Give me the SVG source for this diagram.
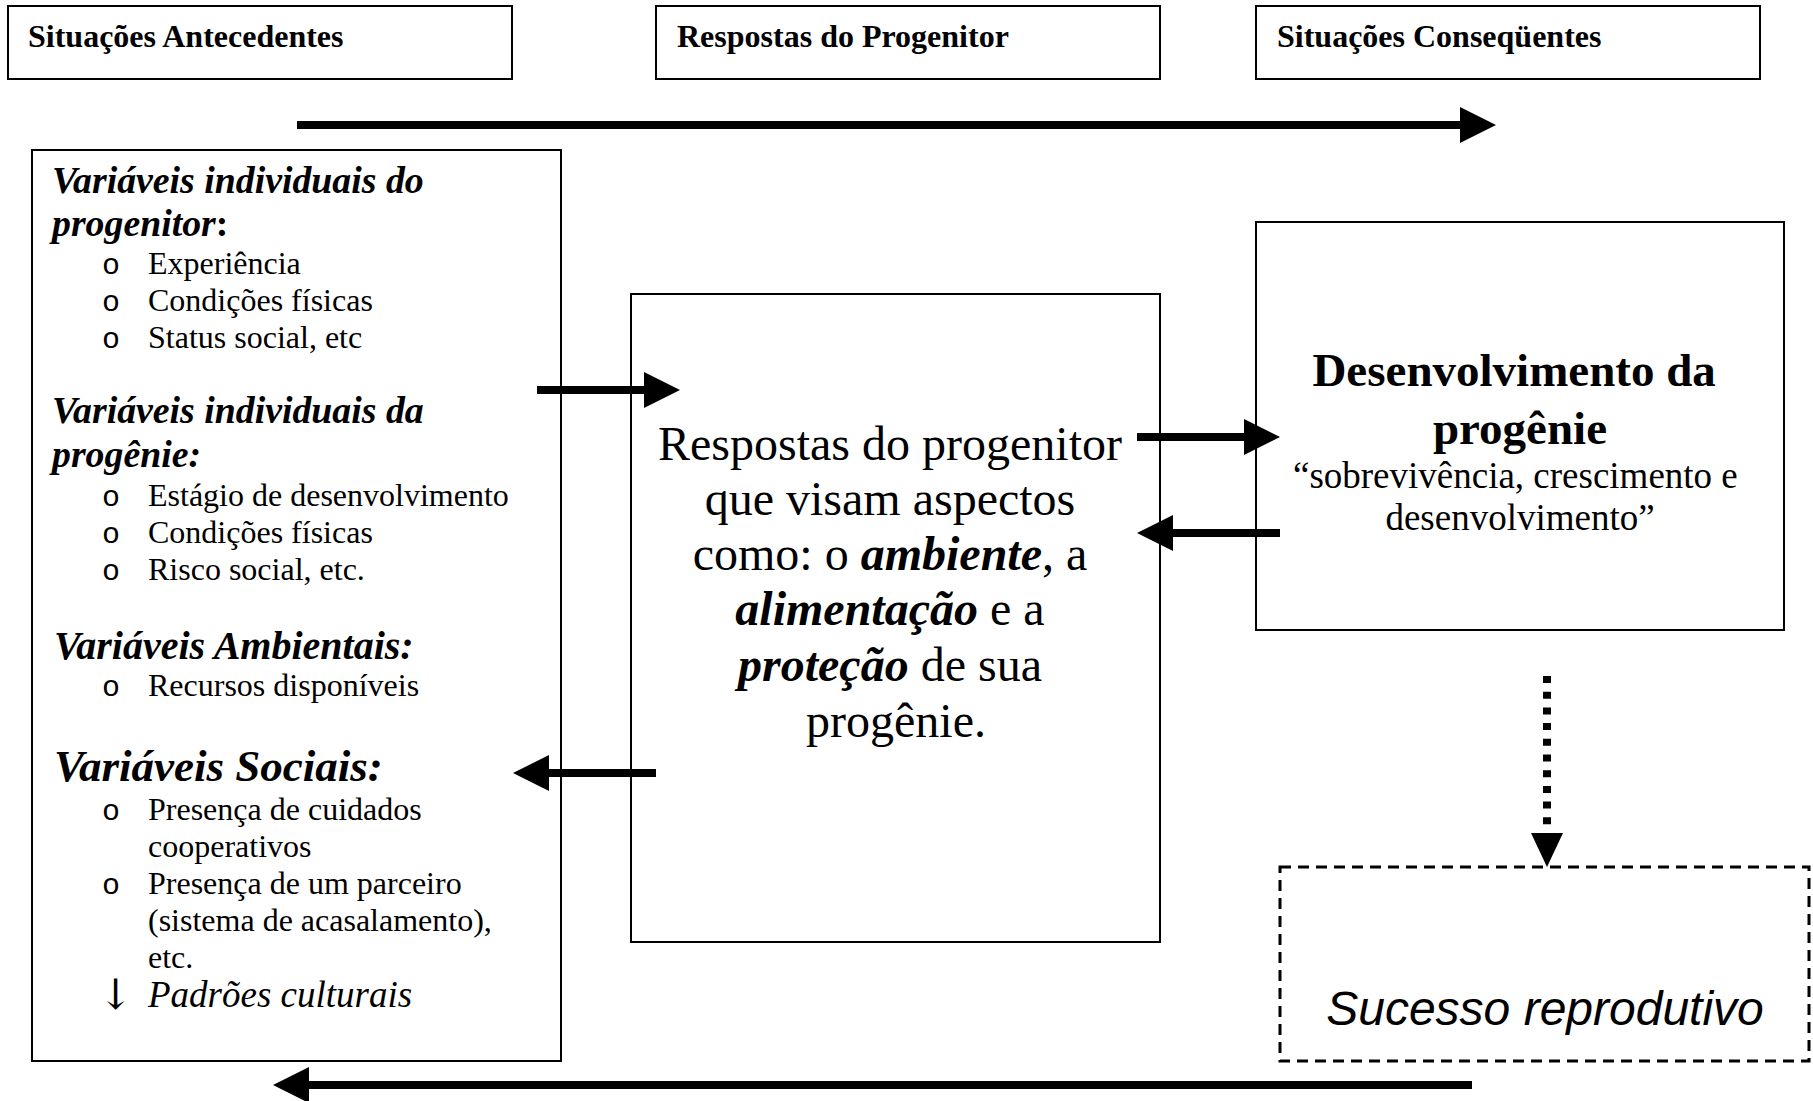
<svg xmlns="http://www.w3.org/2000/svg" width="1813" height="1101" viewBox="0 0 1813 1101">
<style>
.box{fill:#fff;stroke:#000;stroke-width:2}
.dash{fill:#fff;stroke:#000;stroke-width:3;stroke-dasharray:11 7}
.serif{font-family:"Liberation Serif","Times New Roman","DejaVu Serif",serif;fill:#000}
.title{font-size:32px;font-weight:bold}
.head{font-size:37.8px;font-weight:bold;font-style:italic}
.item{font-size:32px}
.bul{font-family:"Liberation Mono","Courier New",monospace;font-size:30px;fill:#000}
.big{font-size:48px}
.bi{font-weight:bold;font-style:italic}
.conn{stroke:#000;stroke-width:8;fill:none}
</style>
<defs>
<marker id="ah" markerUnits="userSpaceOnUse" markerWidth="36" markerHeight="36" viewBox="0 0 36 36" refX="0" refY="18" orient="auto">
<path d="M0,0 L36,18 L0,36 Z" fill="#000"/>
</marker>
</defs>

<g id="titulo-antecedentes">
<rect class="box" x="8" y="6" width="504" height="73"/>
<text class="serif title" x="28" y="47">Situações Antecedentes</text>
</g>
<g id="titulo-respostas">
<rect class="box" x="656" y="6" width="504" height="73"/>
<text class="serif title" x="677" y="47">Respostas do Progenitor</text>
</g>
<g id="titulo-consequentes">
<rect class="box" x="1256" y="6" width="504" height="73"/>
<text class="serif title" x="1277" y="47">Situações Conseqüentes</text>
</g>

<g id="variaveis">
<rect class="box" x="32" y="150" width="529" height="911"/>
<text class="serif head" x="52" y="193">Variáveis individuais do</text>
<text class="serif head" x="52" y="236">progenitor<tspan font-style="normal">:</tspan></text>
<text class="bul" x="102" y="274">o</text><text class="serif item" x="148" y="274">Experiência</text>
<text class="bul" x="102" y="311">o</text><text class="serif item" x="148" y="311">Condições físicas</text>
<text class="bul" x="102" y="348">o</text><text class="serif item" x="148" y="348">Status social, etc</text>
<text class="serif head" x="52" y="423">Variáveis individuais da</text>
<text class="serif head" x="52" y="467">progênie:</text>
<text class="bul" x="102" y="506">o</text><text class="serif item" x="148" y="506">Estágio de desenvolvimento</text>
<text class="bul" x="102" y="543">o</text><text class="serif item" x="148" y="543">Condições físicas</text>
<text class="bul" x="102" y="580">o</text><text class="serif item" x="148" y="580">Risco social, etc.</text>
<text class="serif head" x="54" y="659" style="font-size:40px">Variáveis Ambientais:</text>
<text class="bul" x="102" y="696">o</text><text class="serif item" x="148" y="696">Recursos disponíveis</text>
<text class="serif head" x="54" y="781" style="font-size:45px">Variáveis Sociais:</text>
<text class="bul" x="102" y="820">o</text><text class="serif item" x="148" y="820">Presença de cuidados</text>
<text class="serif item" x="148" y="857">cooperativos</text>
<text class="bul" x="102" y="894">o</text><text class="serif item" x="148" y="894">Presença de um parceiro</text>
<text class="serif item" x="148" y="931">(sistema de acasalamento),</text>
<text class="serif item" x="148" y="968">etc.</text>
<text x="98" y="1009" font-family="'DejaVu Serif','Liberation Serif',serif" font-size="42">↓</text>
<text class="serif" x="148" y="1007" font-size="37" font-style="italic">Padrões culturais</text>
</g>

<g id="respostas">
<rect class="box" x="631" y="294" width="529" height="648"/>
<text class="serif big" text-anchor="middle">
<tspan x="896" y="460">Respostas do progenitor</tspan>
<tspan x="896" y="515">que visam aspectos</tspan>
<tspan x="896" y="570">como: o <tspan class="bi">ambiente</tspan>, a</tspan>
<tspan x="896" y="625"><tspan class="bi">alimentação</tspan> e a</tspan>
<tspan x="896" y="681"><tspan class="bi">proteção</tspan> de sua</tspan>
<tspan x="896" y="737">progênie.</tspan>
</text>
</g>

<g id="desenvolvimento">
<rect class="box" x="1256" y="222" width="528" height="408"/>
<text class="serif" text-anchor="middle" font-size="47" font-weight="bold">
<tspan x="1520" y="386">Desenvolvimento da</tspan>
<tspan x="1520" y="444">progênie</tspan>
</text>
<text class="serif" text-anchor="middle" font-size="37">
<tspan x="1520" y="488">“sobrevivência, crescimento e</tspan>
<tspan x="1520" y="530">desenvolvimento”</tspan>
</text>
</g>

<g id="sucesso">
<rect class="dash" x="1280" y="867" width="529" height="194"/>
<text x="1545" y="1025" text-anchor="middle" font-family="'Liberation Sans',Arial,sans-serif" font-style="italic" font-size="48">Sucesso reprodutivo</text>
</g>

<g id="conectores">
<line class="conn" x1="297" y1="125" x2="1460" y2="125" marker-end="url(#ah)"/>
<line class="conn" x1="537" y1="390" x2="644" y2="390" marker-end="url(#ah)"/>
<line class="conn" x1="656" y1="773" x2="549" y2="773" marker-end="url(#ah)"/>
<line class="conn" x1="1137" y1="437" x2="1244" y2="437" marker-end="url(#ah)"/>
<line class="conn" x1="1280" y1="533" x2="1173" y2="533" marker-end="url(#ah)"/>
<line class="conn" x1="1472" y1="1085" x2="309" y2="1085" marker-end="url(#ah)"/>
<line x1="1547" y1="676" x2="1547" y2="833" stroke="#000" stroke-width="8" stroke-dasharray="7 8.7"/>
<path d="M1531,833 L1563,833 L1547,867 Z" fill="#000"/>
</g>
</svg>
